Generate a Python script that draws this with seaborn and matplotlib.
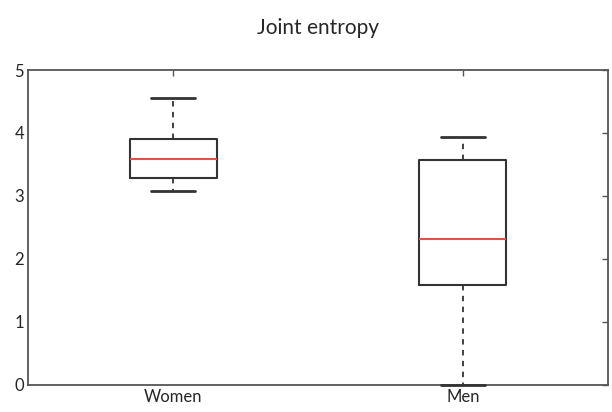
import numpy as np
import pandas as pd
import seaborn as sns
import matplotlib
matplotlib.use("Agg")
import matplotlib.pyplot as plt

# five-number summaries (min, q1, median, q3, max)
groups = ["Women", "Men"]
women = [3.08, 3.29, 3.59, 3.91, 4.56]
men = [0.0, 1.58, 2.31, 3.57, 3.93]

df = pd.DataFrame({
    "group": ["Women"] * len(women) + ["Men"] * len(men),
    "entropy": women + men,
})

sns.set_style("white")
plt.rcParams["font.family"] = ["Lato", "DejaVu Sans"]

fig = plt.figure(figsize=(6.12, 4.12), dpi=100)
ax = fig.add_axes([0.046, 0.066, 0.947, 0.764])

line = "#333333"
sns.boxplot(
    data=df, x="group", y="entropy", order=groups, ax=ax,
    whis=(0, 100), width=0.3, fill=False, linewidth=1.5,
    boxprops=dict(color=line, linewidth=1.5),
    medianprops=dict(color="#e0534c", linewidth=1.5),
    whiskerprops=dict(color=line, linewidth=1.3, linestyle=(0, (3, 3))),
    capprops=dict(color=line, linewidth=2.0, clip_on=False, zorder=3),
)

ax.set_ylim(0, 5)
ax.set_xlim(-0.5, 1.5)
ax.set_yticks([0, 1, 2, 3, 4, 5])
ax.set_xlabel("")
ax.set_ylabel("")
ax.set_title("Joint entropy", fontsize=15, pad=26)

for s in ax.spines.values():
    s.set_visible(True)
    s.set_color("#555555")
    s.set_linewidth(1.3)
ax.tick_params(direction="in", length=4, width=1, color="#555555",
               top=True, right=True, labelsize=12, pad=3)

fig.savefig("out.png", dpi=100)
